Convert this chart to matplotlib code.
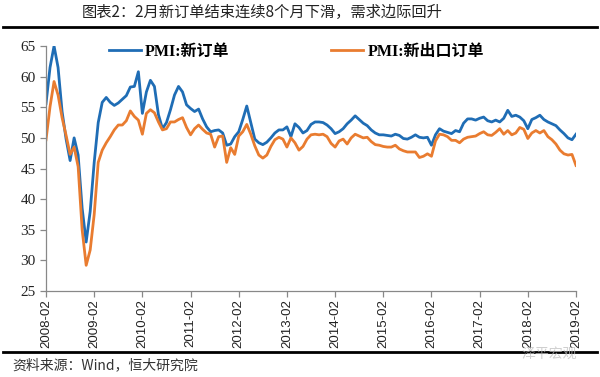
import numpy as np
import pandas as pd
import matplotlib.pyplot as plt
from matplotlib.lines import Line2D

plt.rcParams['font.family'] = ['Noto Sans CJK SC', 'DejaVu Sans']

# monthly data 2008-02 .. 2019-02
months = pd.period_range('2008-02', '2019-02', freq='M')

new_orders = [55.6, 61.5, 65.0, 61.5, 54.3, 49.8, 46.3, 50.0, 47.2, 38.5,
              33.0, 38.0, 46.0, 52.5, 55.8, 56.6, 55.8, 55.3, 55.7, 56.3,
              56.9, 58.3, 58.4, 60.8, 54.0, 57.5, 59.4, 58.4, 53.8, 51.5,
              52.5, 54.6, 57.0, 58.4, 57.5, 55.4, 54.8, 54.3, 54.7, 53.1,
              51.8, 51.0, 51.2, 51.3, 50.8, 48.8, 49.0, 50.2, 51.0, 53.0,
              55.2, 52.5, 49.8, 49.2, 48.9, 49.3, 50.0, 50.8, 51.3, 51.3,
              51.8, 50.2, 52.3, 51.7, 50.8, 51.2, 52.2, 52.6, 52.6, 52.5,
              52.1, 51.5, 50.7, 51.0, 51.5, 52.3, 52.9, 53.6, 53.0, 52.4,
              52.0, 51.3, 50.8, 50.5, 50.5, 50.4, 50.3, 50.6, 50.4, 49.9,
              49.8, 50.1, 50.5, 50.1, 50.0, 50.1, 48.8, 50.5, 51.5, 51.1,
              50.9, 50.7, 51.2, 51.0, 52.4, 53.1, 53.1, 52.9, 53.2, 53.4,
              52.8, 52.6, 52.9, 52.6, 53.2, 54.5, 53.5, 53.7, 53.4, 52.8,
              51.5, 53.0, 53.3, 53.7, 53.0, 52.6, 52.3, 52.0, 51.3, 50.7,
              50.0, 49.7, 50.6]

export_orders = [49.7, 55.1, 59.2, 57.0, 53.3, 50.4, 47.3, 48.5, 45.3, 35.0,
                 29.2, 31.7, 37.5, 46.0, 48.0, 49.2, 50.2, 51.3, 52.1, 52.1,
                 52.8, 54.4, 53.5, 52.9, 50.6, 54.0, 54.6, 54.1, 52.6, 51.3,
                 51.5, 52.6, 52.6, 53.0, 53.3, 51.7, 50.5, 51.5, 52.1, 51.4,
                 50.8, 50.6, 48.5, 50.2, 50.3, 46.0, 48.4, 47.3, 50.3, 51.0,
                 52.2, 50.6, 48.7, 47.2, 46.7, 47.2, 48.6, 49.7, 50.1, 49.8,
                 48.5, 50.0, 49.2, 48.0, 48.6, 49.8, 50.5, 50.6, 50.5, 50.6,
                 50.2, 49.1, 48.5, 49.5, 49.8, 49.0, 50.0, 50.6, 50.3, 50.0,
                 50.1, 49.4, 48.9, 48.8, 48.6, 48.5, 48.5, 48.8, 48.2, 47.9,
                 47.7, 47.7, 47.7, 46.8, 47.0, 47.4, 47.0, 49.5, 50.6, 50.5,
                 50.2, 49.6, 49.6, 49.2, 49.8, 50.1, 50.2, 50.3, 50.7, 51.0,
                 50.5, 50.4, 50.9, 51.5, 50.6, 51.2, 50.5, 50.8, 51.7, 51.4,
                 49.9, 50.8, 51.2, 50.8, 51.2, 50.2, 49.7, 49.0, 48.0, 47.4,
                 47.2, 47.3, 45.5]

labels = [m.strftime('%Y-%m') for m in months]
x = np.arange(len(months))

blue = '#1F6DB5'
orange = '#E97C30'

fig = plt.figure(figsize=(6, 3.77), dpi=100)
ax = fig.add_axes([0.0767, 0.228, 0.8833, 0.65])

ax.plot(x, new_orders, color=blue, lw=2.0, label='PMI:新订单')
ax.plot(x, export_orders, color=orange, lw=2.0, label='PMI:新出口订单')

ax.set_ylim(25, 65)
ax.set_yticks(range(25, 66, 5))
ax.set_xlim(0, len(x) - 1)
ax.set_xticks(x[::12])
ax.set_xticklabels(labels[::12], rotation=90, fontsize=9.5,
                   family=['Liberation Sans Narrow', 'Liberation Sans'])
for t in ax.get_yticklabels():
    t.set_family('Liberation Serif')
    t.set_fontsize(11)

for s in ['top', 'right']:
    ax.spines[s].set_visible(False)
for s in ['left', 'bottom']:
    ax.spines[s].set_color('#888888')
    ax.spines[s].set_linewidth(0.9)
ax.tick_params(axis='both', color='#888888', length=4, width=0.9, colors='#222222')
ax.tick_params(axis='x', pad=2)

leg = ax.legend(loc='center', bbox_to_anchor=(0.472, 0.976), ncol=2, frameon=False,
                columnspacing=6.4, handlelength=2.0, handletextpad=0.25,
                prop={'size': 11.5, 'weight': 'bold',
                      'family': ['Liberation Serif', 'Noto Sans CJK SC']})

# header / footer rules
fig.text(0.437, 0.968, '图表2：2月新订单结束连续8个月下滑，需求边际回升',
         ha='center', va='center', fontsize=11, color='#222222')
fig.add_artist(Line2D([0.005, 0.995], [0.928, 0.928], color='black', lw=2))
fig.add_artist(Line2D([0.005, 0.995], [0.066, 0.066], color='black', lw=2))
fig.text(0.02, 0.032, '资料来源：Wind，恒大研究院', ha='left', va='center',
         fontsize=10, style='italic', color='#333333')
fig.text(0.915, 0.062, '泽平宏观', ha='center', va='center', fontsize=10,
         color='#bbbbbb', alpha=0.7)

fig.savefig('out.png', dpi=100)
